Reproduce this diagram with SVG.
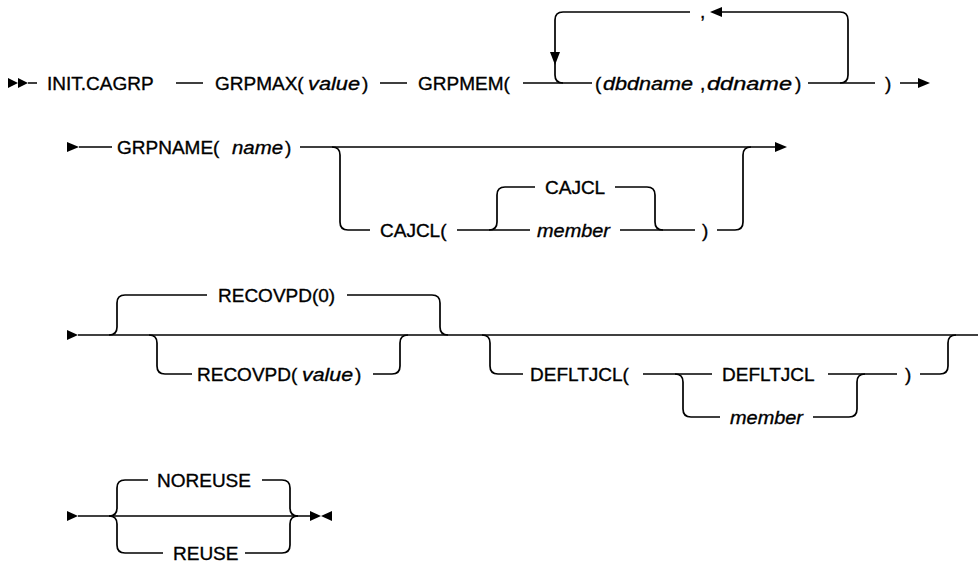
<svg xmlns="http://www.w3.org/2000/svg" width="978" height="563" viewBox="0 0 978 563">
<style>
.t{font-family:"Liberation Sans",Arial,sans-serif;font-size:19px;fill:#000;stroke:#000;stroke-width:0.35}
.i{font-style:italic}
.c{fill:none;stroke:#000;stroke-width:1.7}
.a{fill:#000;stroke:none}
</style>
<rect width="978" height="563" fill="#fff"/>
<g id="connectors">
<polygon class="a" points="8,78 8,88 18,83"/>
<polygon class="a" points="18,78 18,88 28,83"/>
<path class="c" d="M28 83H37 M176 83H203 M380 83H407 M523 83H592 M808 83H875 M900 83H918"/>
<path class="c" d="M690 12H563Q555 12 555 20V75Q555 83 563 83"/>
<path class="c" d="M840 83Q848 83 848 75V20Q848 12 840 12H722"/>
<polygon class="a" points="550,52 560,52 555,65"/>
<polygon class="a" points="722,7 722,17 710,12"/>
<polygon class="a" points="918,78 918,88 930,83"/>
<polygon class="a" points="67,142 67,152 79,147"/>
<path class="c" d="M79 147H112 M300 147H775"/>
<polygon class="a" points="775,142 775,152 787,147"/>
<path class="c" d="M332 147Q340 147 340 155V222Q340 230 348 230H370"/>
<path class="c" d="M457 230H530 M620 230H695 M717 230H735Q743 230 743 222V155Q743 147 751 147"/>
<path class="c" d="M489 230Q497 230 497 222V195Q497 187 505 187H535 M615 187H647Q655 187 655 195V222Q655 230 663 230"/>
<polygon class="a" points="67,330 67,340 78,335"/>
<path class="c" d="M78 335H978"/>
<path class="c" d="M109 335Q117 335 117 327V303Q117 295 125 295H207 M347 295H432Q440 295 440 303V327Q440 335 448 335"/>
<path class="c" d="M149 335Q157 335 157 343V366Q157 374 165 374H192 M373 374H392Q400 374 400 366V343Q400 335 408 335"/>
<path class="c" d="M482 335Q490 335 490 343V366Q490 374 498 374H523 M643 374H712 M828 374H897 M920 374H940Q948 374 948 366V343Q948 335 956 335"/>
<path class="c" d="M675 374Q683 374 683 382V409Q683 417 691 417H720 M813 417H849Q857 417 857 409V382Q857 374 865 374"/>
<polygon class="a" points="67,511 67,521 78,516"/>
<path class="c" d="M78 516H310"/>
<path class="c" d="M109 516Q117 516 117 508V488Q117 480 125 480H148 M262 480H282Q290 480 290 488V508Q290 516 298 516"/>
<path class="c" d="M109 516Q117 516 117 524V545Q117 553 125 553H163 M245 553H282Q290 553 290 545V524Q290 516 298 516"/>
<polygon class="a" points="310,511 310,521 321,516"/>
<polygon class="a" points="332,511 332,521 321,516"/>
</g>
<g id="init"><text class="t" x="47" y="90">INIT.CAGRP</text></g>
<g id="grpmax"><text class="t" x="215" y="90">GRPMAX(<tspan class="i" x="308" textLength="52" lengthAdjust="spacingAndGlyphs">value</tspan><tspan x="362">)</tspan></text></g>
<g id="grpmem"><text class="t" x="418" y="90">GRPMEM(</text></g>
<g id="comma"><text class="t" x="700" y="18">,</text></g>
<g id="dbd"><text class="t" x="595" y="90">(<tspan class="i" x="603" textLength="90" lengthAdjust="spacingAndGlyphs">dbdname</tspan><tspan x="700">,</tspan><tspan class="i" x="707" textLength="85" lengthAdjust="spacingAndGlyphs">ddname</tspan><tspan x="795">)</tspan></text></g>
<g id="close1"><text class="t" x="885" y="90">)</text></g>
<g id="grpname"><text class="t" x="117" y="154">GRPNAME(<tspan class="i" x="232" textLength="51" lengthAdjust="spacingAndGlyphs">name</tspan><tspan x="285">)</tspan></text></g>
<g id="cajcl-open"><text class="t" x="380" y="237">CAJCL(</text></g>
<g id="cajcl"><text class="t" x="545" y="194">CAJCL</text></g>
<g id="member1"><text class="t i" x="537" y="237" textLength="73" lengthAdjust="spacingAndGlyphs">member</text></g>
<g id="close2"><text class="t" x="702" y="237">)</text></g>
<g id="recovpd0"><text class="t" x="218" y="302">RECOVPD(0)</text></g>
<g id="recovpdv"><text class="t" x="197" y="381">RECOVPD(<tspan class="i" x="302" textLength="51" lengthAdjust="spacingAndGlyphs">value</tspan><tspan x="355">)</tspan></text></g>
<g id="defltjcl-open"><text class="t" x="530" y="381">DEFLTJCL(</text></g>
<g id="defltjcl"><text class="t" x="722" y="381">DEFLTJCL</text></g>
<g id="member2"><text class="t i" x="730" y="424" textLength="73" lengthAdjust="spacingAndGlyphs">member</text></g>
<g id="close3"><text class="t" x="905" y="381">)</text></g>
<g id="noreuse"><text class="t" x="157" y="487">NOREUSE</text></g>
<g id="reuse"><text class="t" x="173" y="560">REUSE</text></g>
</svg>
